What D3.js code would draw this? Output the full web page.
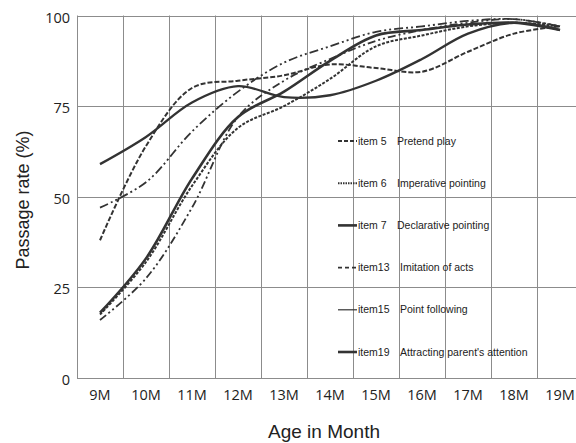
<!DOCTYPE html>
<html>
<head>
<meta charset="utf-8">
<script src="https://cdn.jsdelivr.net/npm/d3@7"></script>
<style>
    body { margin: 0; background: white; }
    svg { display: block; }
</style>
</head>
<body>
<div id="chart"></div>
<script>

    var months = ["9M", "10M", "11M", "12M", "13M", "14M", "15M", "16M", "17M", "18M", "19M"];
    var yTicks = [0, 25, 50, 75, 100];

    var itemCodes = ["item 5", "item 6", "item 7", "item13", "item15", "item19"];
    var itemNames = ["Pretend play", "Imperative pointing", "Declarative pointing",
        "Imitation of acts", "Point following", "Attracting parent's attention"];

    // passage rate (%) per month
    var item5 = [38, 64, 80, 82, 83.5, 86.5, 85.5, 84.5, 90, 95, 97];
    var item6 = [17.5, 32, 53, 69, 75, 82.5, 91.5, 94.5, 97, 98, 97];
    var item7 = [18, 33, 55, 72, 79, 87.5, 94.5, 96, 97.5, 98, 96];
    var item13 = [16, 27.5, 47, 72, 82, 88, 93, 96, 98, 99, 97];
    var item15 = [47, 54, 68, 79, 87, 91.5, 95.5, 97, 98.5, 99, 97];
    var item19 = [59, 66.5, 76, 80.5, 77.5, 78, 82, 88, 95, 98, 96];

    var seriesValues = [item5, item6, item7, item13, item15, item19];

    var lineDash = ["5,2", "3,1.5", null, "8,3,2,3,2,3", "9,3,2,3,2,3", null];
    var lineWidth = [2, 2, 2.6, 1.8, 1.8, 2.3];
    var legendDash = ["4,2", "1.5,1", null, "4,3", null, null];
    var legendWidth = [2, 2, 2.6, 1.6, 1.2, 2.6];

    var width = 576, height = 443;
    var plotLeft = 77, plotRight = 583, plotTop = 15.5, plotBottom = 378;
    var ink = "#333";

    var svg = d3.select("#chart").append("svg")
        .attr("width", width)
        .attr("height", height)
        .style("background", "white");

    var x = d3.scaleBand().domain(months).range([plotLeft, plotRight]).padding(0);
    var y = d3.scaleLinear().domain([0, 100]).range([plotBottom, plotTop]);

    // grid
    var grid = svg.append("g").attr("stroke", "#8c8c8c").attr("stroke-width", 1);
    grid.selectAll("line.h")
        .data(yTicks)
        .enter().append("line")
        .attr("x1", plotLeft).attr("x2", plotRight)
        .attr("y1", function (d) { return Math.round(y(d)) + 0.5; })
        .attr("y2", function (d) { return Math.round(y(d)) + 0.5; });
    grid.selectAll("line.v")
        .data(months.concat(["end"]))
        .enter().append("line")
        .attr("x1", function (d) { return Math.round(d === "end" ? plotRight : x(d)) + 0.5; })
        .attr("x2", function (d) { return Math.round(d === "end" ? plotRight : x(d)) + 0.5; })
        .attr("y1", plotTop).attr("y2", plotBottom);

    // axes text
    var xAxis = svg.append("g")
        .attr("transform", "translate(0," + plotBottom + ")")
        .call(d3.axisBottom(x).tickSize(0).tickPadding(12));
    xAxis.select(".domain").remove();
    xAxis.selectAll("text")
        .style("font-family", "'Open Sans', sans-serif")
        .style("font-size", "14.5px")
        .attr("fill", "#222");

    var yAxis = svg.append("g")
        .attr("transform", "translate(" + plotLeft + ",0)")
        .call(d3.axisLeft(y).tickValues(yTicks).tickSize(0).tickPadding(7));
    yAxis.select(".domain").remove();
    yAxis.selectAll("text")
        .style("font-family", "'Open Sans', sans-serif")
        .style("font-size", "14.5px")
        .attr("dy", "0.45em")
        .attr("fill", "#222");

    svg.append("text")
        .attr("x", (plotLeft + plotRight) / 2 - 6)
        .attr("y", 438)
        .attr("text-anchor", "middle")
        .style("font-family", "'Liberation Sans', Arial, sans-serif")
        .style("font-size", "19px")
        .attr("fill", "#222")
        .text("Age in Month");

    svg.append("text")
        .attr("transform", "translate(29,200) rotate(-90)")
        .attr("text-anchor", "middle")
        .style("font-family", "'Liberation Sans', Arial, sans-serif")
        .style("font-size", "18px")
        .attr("fill", "#222")
        .text("Passage rate (%)");

    // curves
    var line = d3.line()
        .x(function (d, i) { return x(months[i]) + x.bandwidth() / 2; })
        .y(function (d) { return y(d); })
        .curve(d3.curveCatmullRom.alpha(0.5));

    svg.append("g")
        .selectAll("path")
        .data(seriesValues)
        .enter().append("path")
        .attr("d", line)
        .attr("fill", "none")
        .attr("stroke", ink)
        .attr("stroke-width", function (d, i) { return lineWidth[i]; })
        .attr("stroke-dasharray", function (d, i) { return lineDash[i]; })
        .attr("stroke-linejoin", "round");

    // legend
    var legend = svg.append("g")
        .selectAll("g")
        .data(itemCodes)
        .enter().append("g")
        .attr("transform", function (d, i) { return "translate(338," + (141 + i * 42.2) + ")"; });

    legend.append("line")
        .attr("x1", 0).attr("x2", 19)
        .attr("stroke", ink)
        .attr("stroke-width", function (d, i) { return legendWidth[i]; })
        .attr("stroke-dasharray", function (d, i) { return legendDash[i]; });

    legend.append("text")
        .attr("x", 20)
        .attr("dy", "0.35em")
        .style("font-family", "'Liberation Sans Narrow', 'Liberation Sans', Arial, sans-serif")
        .style("font-size", "10.5px")
        .attr("fill", "#222")
        .text(function (d) { return d; });

    legend.append("text")
        .attr("x", function (d, i) { return i < 3 ? 59 : 62; })
        .attr("dy", "0.35em")
        .style("font-family", "'Liberation Sans Narrow', 'Liberation Sans', Arial, sans-serif")
        .style("font-size", "10.5px")
        .attr("fill", "#222")
        .text(function (d, i) { return itemNames[i]; });

</script>
</body>
</html>
